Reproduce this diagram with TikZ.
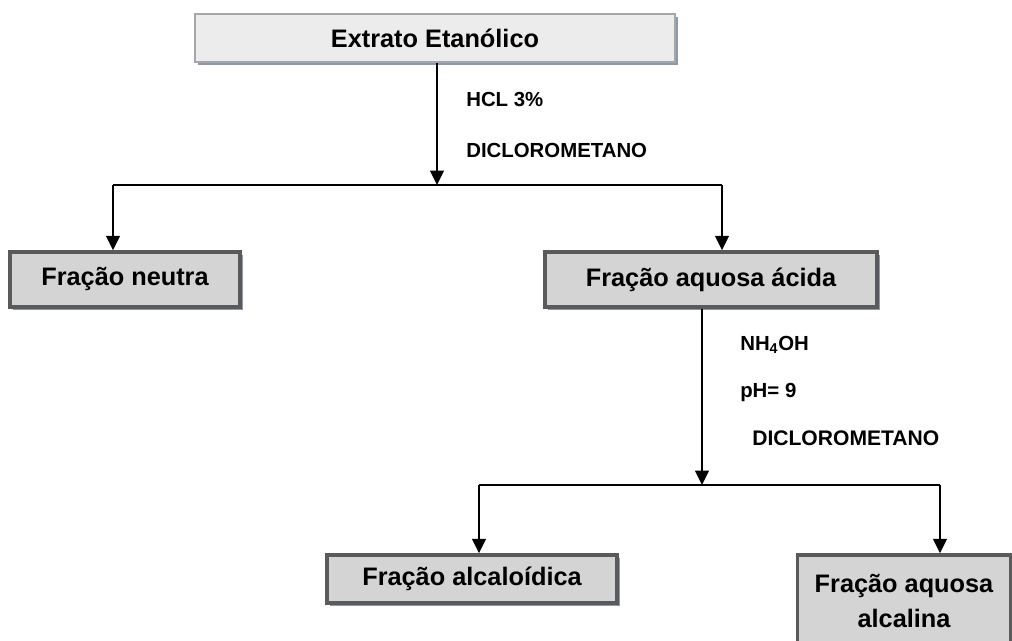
\documentclass[tikz,border=0pt]{standalone}
\usepackage{fontspec}
\setmainfont{Liberation Sans}
\usepackage{tikz}
\usetikzlibrary{positioning, arrows.meta, calc, shadows}
\definecolor{boxgray}{HTML}{D4D4D4}
\definecolor{topgray}{HTML}{ECECEC}
\definecolor{edgegray}{HTML}{5A5A5A}
\definecolor{topedge}{HTML}{A6A6A6}
\definecolor{shadowblue}{HTML}{7F8FA6}

\begin{document}
\begin{tikzpicture}[
    topbox/.style={draw=topedge, fill=topgray, line width=2pt, minimum width=12cm,
                   minimum height=1.2cm, font=\fontsize{18}{21}\selectfont\bfseries,
                   drop shadow={shadow xshift=0.08cm, shadow yshift=-0.08cm, fill=shadowblue, opacity=0.9}},
    fracbox/.style={draw=edgegray, fill=boxgray, line width=2.6pt, minimum height=1.375cm,
                    font=\fontsize{18}{25}\selectfont\bfseries, align=center,
                    drop shadow={shadow xshift=0.08cm, shadow yshift=-0.08cm, fill=shadowblue, opacity=0.9}},
    arr/.style={-{Triangle[length=0.36cm, width=0.34cm]}, line width=1.6pt},
    branch/.style={line width=1.2pt},
    reagent/.style={font=\fontsize{14.5}{16}\selectfont\bfseries, anchor=west, inner sep=0pt},
]
\useasboundingbox (0,0) rectangle (25.3,-16.025);
\node[topbox] (extrato) at (10.875,-0.95) {Extrato Etanólico};
\node[fracbox, minimum width=5.75cm] (neutra) at (3.125,-6.9875) {Fração neutra};
\node[fracbox, minimum width=8.3cm] (acida) at (17.775,-6.9875) {Fração aquosa ácida};
\node[fracbox, minimum width=7.25cm, minimum height=1.2cm] (alcaloidica) at (11.8,-14.475) {Fração alcaloídica};
\node[fracbox, minimum width=5.325cm, minimum height=2.3cm] (alcalina) at (22.6,-15.025) {Fração aquosa\\alcalina};
% first split
\coordinate (split1) at (10.925,-4.625);
\coordinate (left1) at (2.825,-4.625);
\coordinate (right1) at (18.05,-4.625);
\draw[arr] (extrato.south -| split1) -- (split1);
\draw[branch] (left1) -- (right1);
\draw[arr] (left1) -- (left1 |- neutra.north);
\draw[arr] (right1) -- (right1 |- acida.north);
\node[reagent] (hcl) at (11.65,-2.5) {HCL 3\%};
\node[reagent] (dcm1) at (11.65,-3.75) {DICLOROMETANO};
% second split
\coordinate (split2) at (17.55,-12.125);
\coordinate (left2) at (11.975,-12.125);
\coordinate (right2) at (23.5,-12.125);
\draw[arr] (acida.south -| split2) -- (split2);
\draw[branch] (left2) -- (right2);
\draw[arr] (left2) -- (left2 |- alcaloidica.north);
\draw[arr] (right2) -- (right2 |- alcalina.north);
\node[reagent] (nh4oh) at (18.5,-8.625) {NH\textsubscript{4}OH};
\node[reagent] (ph) at (18.5,-9.8) {pH= 9};
\node[reagent, font=\fontsize{15}{17}\selectfont\bfseries] (dcm2) at (18.8,-10.95) {DICLOROMETANO};
\end{tikzpicture}
\end{document}
